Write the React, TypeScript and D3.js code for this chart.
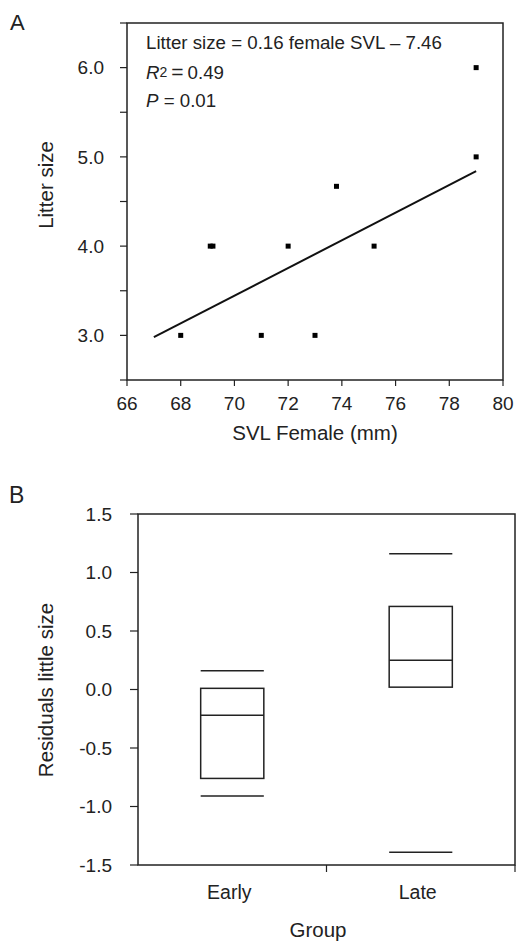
import React from "react";
import * as d3 from "d3";

// ---------- Panel A data ----------
const svl = [68.0, 69.1, 69.2, 71.0, 72.0, 73.0, 73.8, 75.2, 79.0, 79.0];
const litter = [3, 4, 4, 3, 4, 3, 4.67, 4, 6, 5];
const fitX = [67, 79];
const fitY = [2.98, 4.84];
const xTicksA = [66, 68, 70, 72, 74, 76, 78, 80];
const yTicksA = [2.5, 3, 3.5, 4, 4.5, 5, 5.5, 6, 6.5];
const yLabelsA = [3, 4, 5, 6];

// ---------- Panel B data ----------
const groups = ["Early", "Late"];
const whiskerHigh = [0.16, 1.16];
const q3 = [0.01, 0.71];
const median = [-0.22, 0.25];
const q1 = [-0.76, 0.02];
const whiskerLow = [-0.91, -1.39];
const yTicksB = [1.5, 1.0, 0.5, 0.0, -0.5, -1.0, -1.5];

const INK = "#222";
const FONT = "'Liberation Sans', Arial, Helvetica, sans-serif";

export default function App() {
  // Panel A scales
  const xA = d3.scaleLinear().domain([66, 80]).range([127, 503]);
  const yA = d3.scaleLinear().domain([2.5, 6.5]).range([380, 23]);
  // Panel B scales
  const xB = d3.scaleBand<string>().domain(groups).range([138, 515]);
  const yB = d3.scaleLinear().domain([-1.5, 1.5]).range([865, 514]);

  const fitLine = d3
    .line<number>()
    .x((d) => xA(d))
    .y((_, i) => yA(fitY[i]))(fitX);

  const boxW = xB.bandwidth() * 0.335;
  const mk = 5;

  return (
    <svg
      width={519}
      height={941}
      style={{ position: "absolute", left: 0, top: 0, background: "#fff" }}
      fontFamily={FONT}
    >
      <rect x={0} y={0} width={519} height={941} fill="#fff" />
      {/* ===== Panel A ===== */}
      <text x={10} y={30} fontSize={22} fill={INK}>A</text>
      <rect
        x={xA(66)}
        y={yA(6.5)}
        width={xA(80) - xA(66)}
        height={yA(2.5) - yA(6.5)}
        fill="none"
        stroke={INK}
        strokeWidth={1.5}
      />
      {yTicksA.map((t) => (
        <line key={"ya" + t} x1={xA(66) - 7} x2={xA(66)} y1={yA(t)} y2={yA(t)} stroke={INK} strokeWidth={1.2} />
      ))}
      {yLabelsA.map((t) => (
        <text key={"yla" + t} x={104} y={yA(t)} dy="0.36em" textAnchor="end" fontSize={19} fill={INK}>
          {t.toFixed(1)}
        </text>
      ))}
      {xTicksA.map((t) => (
        <g key={"xa" + t}>
          <line x1={xA(t)} x2={xA(t)} y1={yA(2.5)} y2={yA(2.5) + 6} stroke={INK} strokeWidth={1.2} />
          <text x={xA(t)} y={410} textAnchor="middle" fontSize={19} fill={INK}>{t}</text>
        </g>
      ))}
      <text x={315} y={440} textAnchor="middle" fontSize={20.5} fill={INK}>SVL Female (mm)</text>
      <text transform="translate(53,185) rotate(-90)" textAnchor="middle" fontSize={20.5} fill={INK}>
        Litter size
      </text>
      <path d={fitLine || ""} fill="none" stroke="#111" strokeWidth={2} />
      {svl.map((v, i) => (
        <rect key={"p" + i} x={xA(v) - mk / 2} y={yA(litter[i]) - mk / 2} width={mk} height={mk} fill="#000" />
      ))}
      <text x={146} y={49} fontSize={18.7} fill={INK}>Litter size = 0.16 female SVL – 7.46</text>
      <text x={146} y={79} fontSize={18.7} fill={INK}>
        <tspan fontStyle="italic">R</tspan>
        <tspan fontSize={14} dy={-2}>2</tspan>
        <tspan dy={2} dx={4} fontSize={21}>=</tspan>
        <tspan dx={4}>0.49</tspan>
      </text>
      <text x={146} y={107} fontSize={18.7} fill={INK}>
        <tspan fontStyle="italic">P</tspan>
        <tspan> = 0.01</tspan>
      </text>

      {/* ===== Panel B ===== */}
      <text x={9} y={503} fontSize={23} fill={INK}>B</text>
      <rect
        x={138}
        y={yB(1.5)}
        width={515 - 138}
        height={yB(-1.5) - yB(1.5)}
        fill="none"
        stroke={INK}
        strokeWidth={1.5}
      />
      {yTicksB.map((t) => (
        <g key={"yb" + t}>
          <line x1={130} x2={138} y1={yB(t)} y2={yB(t)} stroke={INK} strokeWidth={1.2} />
          <text x={112} y={yB(t)} dy="0.36em" textAnchor="end" fontSize={19} fill={INK}>
            {t.toFixed(1)}
          </text>
        </g>
      ))}
      {[xB("Late") as number, 515].map((x, i) => (
        <line key={"xb" + i} x1={x} x2={x} y1={yB(-1.5)} y2={yB(-1.5) + 7} stroke={INK} strokeWidth={1.2} />
      ))}
      {groups.map((g) => (
        <text
          key={"gl" + g}
          x={(xB(g) as number) + xB.bandwidth() / 2 - 3}
          y={899}
          textAnchor="middle"
          fontSize={19.5}
          fill={INK}
        >
          {g}
        </text>
      ))}
      <text x={318} y={937} textAnchor="middle" fontSize={20.5} fill={INK}>Group</text>
      <text transform="translate(53,690) rotate(-90)" textAnchor="middle" fontSize={20.5} fill={INK}>
        Residuals little size
      </text>
      {groups.map((g, i) => {
        const cx = (xB(g) as number) + xB.bandwidth() / 2;
        const x0 = cx - boxW / 2;
        return (
          <g key={"box" + g} stroke={INK} strokeWidth={1.5} fill="none">
            <rect x={x0} y={yB(q3[i])} width={boxW} height={yB(q1[i]) - yB(q3[i])} />
            <line x1={x0} x2={x0 + boxW} y1={yB(median[i])} y2={yB(median[i])} />
            <line x1={x0} x2={x0 + boxW} y1={yB(whiskerHigh[i])} y2={yB(whiskerHigh[i])} />
            <line x1={x0} x2={x0 + boxW} y1={yB(whiskerLow[i])} y2={yB(whiskerLow[i])} />
          </g>
        );
      })}
    </svg>
  );
}
